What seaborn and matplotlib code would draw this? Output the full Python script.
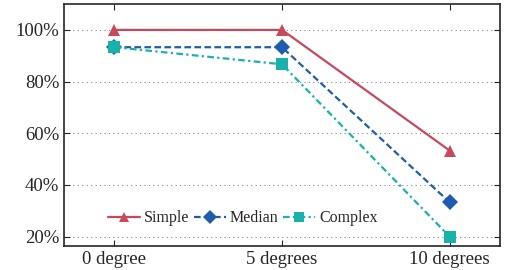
import numpy as np
import pandas as pd
import matplotlib
matplotlib.use("Agg")
import matplotlib.pyplot as plt
import seaborn as sns
from matplotlib.ticker import PercentFormatter

# Data
categories = ["0 degree", "5 degrees", "10 degrees"]
simple = [100.0, 100.0, 53.3]
median = [93.3, 93.3, 33.3]
complex_ = [93.3, 86.7, 20.0]

series = ["Simple", "Median", "Complex"]
colors = {"Simple": "#C9495C", "Median": "#1E5DAE", "Complex": "#18B2AA"}
markers = {"Simple": "^", "Median": "D", "Complex": "s"}
dashes = {"Simple": "", "Median": (3, 1.5), "Complex": (3, 1.5, 1, 1.5)}

df = pd.DataFrame({
    "x": list(range(len(categories))) * 3,
    "value": simple + median + complex_,
    "series": [s for s in series for _ in categories],
})

sns.set_style("ticks")
plt.rcParams["font.family"] = ["Liberation Serif", "DejaVu Serif"]
plt.rcParams["mathtext.fontset"] = "stix"

fig, ax = plt.subplots(figsize=(5.05, 2.7), dpi=100)
sns.lineplot(data=df, x="x", y="value", hue="series", style="series",
             palette=colors, markers=markers, dashes=dashes,
             markersize=8.5, linewidth=1.6, markeredgewidth=0, ax=ax)

ax.set_xlim(-0.3, 2.3)
ax.set_ylim(16.5, 110)
ax.set_xticks(range(len(categories)))
ax.set_xticklabels(categories, fontsize=13.5)
ax.set_yticks([20, 40, 60, 80, 100])
ax.yaxis.set_major_formatter(PercentFormatter(decimals=0))
ax.tick_params(axis="y", labelsize=13.5)
ax.tick_params(direction="in", top=True, right=True, length=4, width=0.8)
ax.set_xlabel("")
ax.set_ylabel("")
ax.yaxis.grid(True, linestyle=(0, (1, 3)), color="#888888", linewidth=0.8)
for s in ax.spines.values():
    s.set_linewidth(1.2)

ax.legend(loc="lower center", bbox_to_anchor=(0.41, 0.02), ncol=3, frameon=False,
          fontsize=11.5, handlelength=2.0, columnspacing=0.3, handletextpad=0.25,
          markerscale=0.85)

plt.subplots_adjust(left=0.127, right=0.99, top=0.985, bottom=0.09)
plt.savefig("out.png", dpi=100)
